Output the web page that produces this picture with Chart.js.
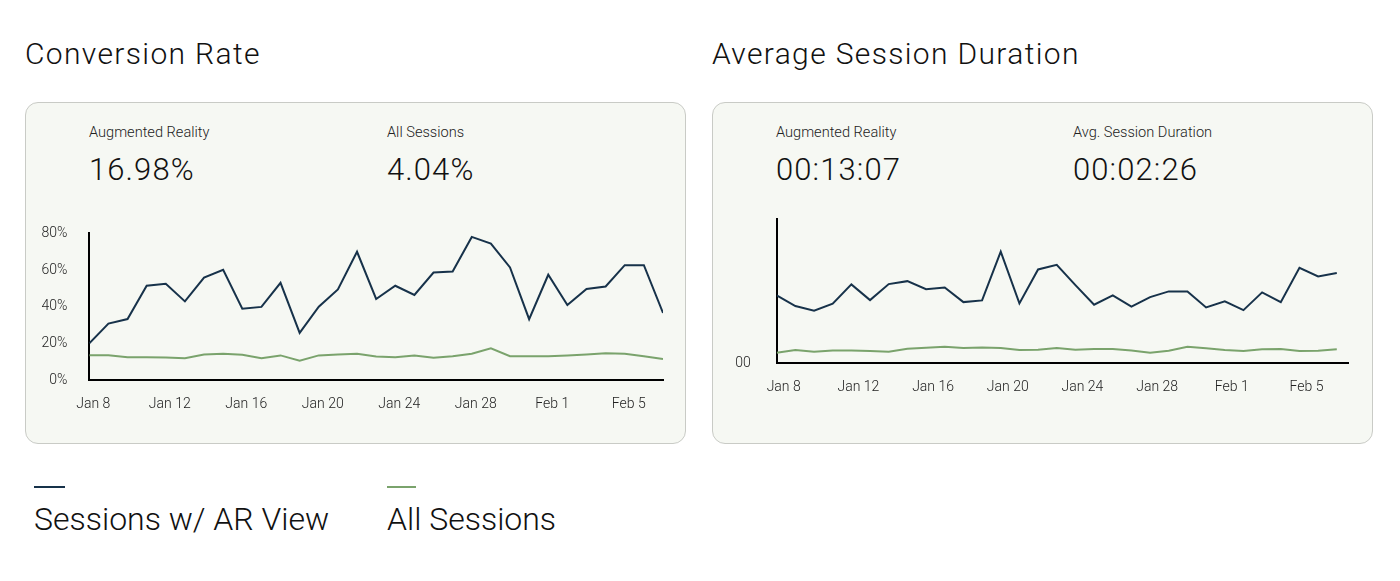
<!DOCTYPE html>
<html>
<head>
<meta charset="utf-8">
<script src="https://cdn.jsdelivr.net/npm/chart.js@4"></script>
<style>
  html, body { margin:0; padding:0; background:#ffffff; }
  body { width:1400px; height:581px; position:relative; overflow:hidden; font-family:'Roboto', sans-serif; font-weight:300; color:#111; }
  .t { position:absolute; white-space:nowrap; line-height:1; }
  .title { font-size:30px; letter-spacing:1.35px; }
  .lab { font-size:14.6px; color:#222; }
  .big { font-size:31px; letter-spacing:1.1px; }
  .leg { font-size:32px; }
  .card { position:absolute; top:102px; height:342px; width:661px; background:#f6f8f3; border:1.5px solid #c9cbc6; border-radius:13px; box-sizing:border-box; }
  .dash { position:absolute; height:2px; top:486px; }
  .cv { position:absolute; }
  .cv canvas { display:block; }
</style>
</head>
<body>
<div class="t title" style="left:25px;top:39px;">Conversion Rate</div>
<div class="t title" style="left:712px;top:39px;">Average Session Duration</div>

<div class="card" style="left:25px;"></div>
<div class="card" style="left:712px;"></div>

<div class="t lab" style="left:89px;top:125px;">Augmented Reality</div>
<div class="t lab" style="left:387px;top:125px;">All Sessions</div>
<div class="t big" style="left:89px;top:154px;">16.98%</div>
<div class="t big" style="left:387px;top:154px;">4.04%</div>

<div class="t lab" style="left:776px;top:125px;">Augmented Reality</div>
<div class="t lab" style="left:1073px;top:125px;">Avg. Session Duration</div>
<div class="t big" style="left:776px;top:154px;">00:13:07</div>
<div class="t big" style="left:1073px;top:154px;">00:02:26</div>

<div class="cv" id="w1" style="left:26px;top:215px;width:660px;height:200px;"><canvas id="c1"></canvas></div>
<div class="cv" id="w2" style="left:713px;top:205px;width:660px;height:200px;"><canvas id="c2"></canvas></div>

<div class="dash" style="left:34px;width:31px;background:#17324a;"></div>
<div class="dash" style="left:387px;width:29px;background:#7aa36c;"></div>
<div class="t leg" style="left:34px;top:503px;">Sessions w/ AR View</div>
<div class="t leg" style="left:387px;top:503px;">All Sessions</div>

<script>
// ---- data ----
const dayLabels = ['Jan 8','Jan 9','Jan 10','Jan 11','Jan 12','Jan 13','Jan 14','Jan 15','Jan 16','Jan 17','Jan 18','Jan 19','Jan 20','Jan 21','Jan 22','Jan 23','Jan 24','Jan 25','Jan 26','Jan 27','Jan 28','Jan 29','Jan 30','Jan 31','Feb 1','Feb 2','Feb 3','Feb 4','Feb 5','Feb 6','Feb 7'];
const tickEvery = 4;
const seriesNames = ['Sessions w/ AR View', 'All Sessions'];

// Conversion rate (%)
const convAR  = [20.2,30.9,33.4,51.5,52.6,43.0,55.9,60.2,39.0,40.0,53.1,25.9,40.1,49.5,70.0,44.3,51.5,46.5,58.7,59.3,78.1,74.5,61.5,33.3,57.5,41.0,49.7,51.1,62.7,62.7,36.7];
const convAll = [13.7,13.7,12.6,12.6,12.4,12.1,14.1,14.5,14.0,12.1,13.6,10.7,13.6,14.1,14.5,13.0,12.6,13.6,12.3,13.2,14.5,17.5,13.2,13.2,13.2,13.6,14.1,14.8,14.5,13.2,11.6];
const convTicks = [0,20,40,60,80];

// Average session duration (seconds)
const durAR  = [756,637,585,663,878,703,881,914,825,844,681,700,1241,667,1044,1096,870,652,756,630,737,800,800,622,689,592,789,681,1063,967,1004];
const durAll = [119,148,130,144,144,137,130,163,174,185,170,178,170,148,152,170,152,159,159,144,119,141,185,167,148,137,156,159,137,141,156];
const durTicks = [0];
const durTickLabels = ['00'];

// ---- styling ----
const DARK = '#17324a', GREEN = '#7aa36c';
const tickFont = { family: 'Roboto', size: 14, weight: '300' };
const toXY = arr => arr.map((v, i) => ({ x: i, y: v }));
const xTickValues = dayLabels.map((_, i) => i).filter(i => i % tickEvery === 0);

function makeChart(id, ar, all, cfg) {
  return new Chart(document.getElementById(id), {
    type: 'line',
    data: {
      datasets: [
        { label: seriesNames[0], data: toXY(ar), borderColor: DARK, borderWidth: 2, pointRadius: 0, tension: 0, fill: false },
        { label: seriesNames[1], data: toXY(all), borderColor: GREEN, borderWidth: 2, pointRadius: 0, tension: 0, fill: false }
      ]
    },
    options: {
      responsive: true,
      maintainAspectRatio: false,
      animation: false,
      layout: { padding: cfg.padding },
      plugins: { legend: { display: false }, tooltip: { enabled: false } },
      scales: {
        x: {
          type: 'linear', min: 0, max: cfg.xMax,
          afterBuildTicks: s => { s.ticks = xTickValues.map(v => ({ value: v })); },
          afterFit: s => { s.height = cfg.xH; },
          grid: { display: false, drawTicks: false },
          border: { display: true, color: '#000', width: 2 },
          ticks: { font: tickFont, color: '#222', padding: 16, labelOffset: cfg.labelOffset, maxRotation: 0, autoSkip: false,
                   callback: v => dayLabels[v] }
        },
        y: {
          min: 0, max: cfg.yMax,
          afterBuildTicks: s => { s.ticks = cfg.yTicks.map(v => ({ value: v })); },
          afterFit: s => { s.width = cfg.yW; },
          grid: { display: false, drawTicks: false },
          border: { display: true, color: '#000', width: 2 },
          ticks: { font: tickFont, color: '#222', padding: cfg.yPad, callback: cfg.yFmt }
        }
      }
    }
  });
}

// place the plot area of a chart at the wanted page rows by moving / resizing its wrapper
function fitArea(chart, wrap, wantTop, wantBottom) {
  for (let k = 0; k < 6; k++) {
    const a = chart.chartArea;
    const curTop = parseFloat(wrap.style.top), curH = parseFloat(wrap.style.height);
    const dTop = wantTop - (curTop + a.top), dBot = wantBottom - (curTop + a.bottom);
    if (Math.abs(dTop) < 0.2 && Math.abs(dBot) < 0.2) break;
    wrap.style.top = (curTop + dTop) + 'px';
    wrap.style.height = (curH + dBot - dTop) + 'px';
    chart.resize();
  }
}

const ch1 = makeChart('c1', convAR, convAll, {
  padding: { top: 18, right: 23, left: 0, bottom: 0 },
  xMax: 30, xH: 35, yW: 63.3, yPad: 22, labelOffset: 4,
  yMax: 80, yTicks: convTicks, yFmt: v => v + '%'
});

const ch2 = makeChart('c2', durAR, durAll, {
  padding: { top: 14, right: 25, left: 0, bottom: 0 },
  xMax: 30.6, xH: 42, yW: 63.7, yPad: 26, labelOffset: 7,
  yMax: 1600, yTicks: durTicks, yFmt: (v, i) => durTickLabels[i]
});

fitArea(ch1, document.getElementById('w1'), 233, 380);
fitArea(ch2, document.getElementById('w2'), 219, 363);
</script>
</body>
</html>
